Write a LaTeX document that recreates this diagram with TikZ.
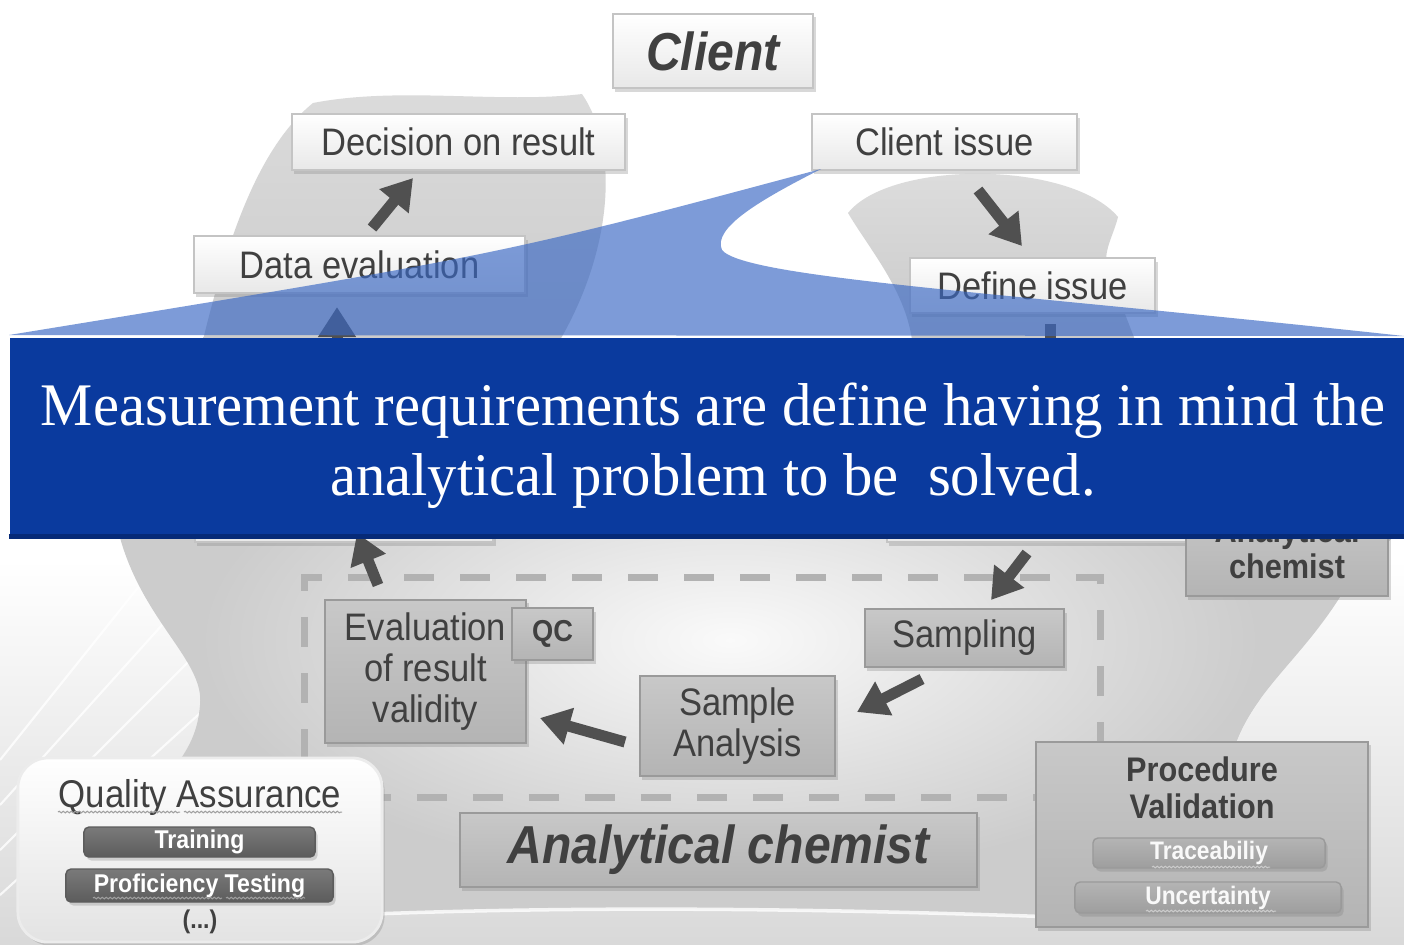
\documentclass[tikz,border=0pt]{standalone}
\usepackage{fontspec}
\setmainfont{Liberation Sans}[FakeStretch=0.9]
\newfontfamily\bannerfont{Liberation Serif}[FakeStretch=0.97]
\usetikzlibrary{arrows.meta,shadows,decorations.pathmorphing,calc}
\definecolor{boxedge}{HTML}{C4C4C4}
\definecolor{boxlightb}{HTML}{E8E8E8}
\definecolor{midboxtop}{HTML}{C8C8C8}
\definecolor{midboxbot}{HTML}{B4B4B4}
\definecolor{midedge}{HTML}{9A9A9A}
\definecolor{txt}{HTML}{404040}
\definecolor{arrowc}{HTML}{505050}
\definecolor{darkbartop}{HTML}{7A7A7A}
\definecolor{darkbarbot}{HTML}{5C5C5C}
\definecolor{lightbartop}{HTML}{B4B4B4}
\definecolor{lightbarbot}{HTML}{9E9E9E}
\definecolor{bannerc}{HTML}{0A3A9E}
\definecolor{bannerdark}{HTML}{062A78}
\definecolor{calloutc}{HTML}{3A68C4}
\definecolor{dashc}{HTML}{B2B2B2}
\begin{document}
\begin{tikzpicture}[x=0.01cm,y=-0.01cm,
  shadowed/.style={drop shadow={shadow xshift=0.025cm,shadow yshift=-0.035cm,opacity=0.3}},
  lightbox/.style={draw=boxedge, line width=0.6pt, top color=white, bottom color=boxlightb,
     shadowed, text=txt, inner sep=0pt, align=center, font=\fontsize{10.9}{12}\selectfont},
  midbox/.style={draw=midedge, line width=0.6pt, top color=midboxtop, bottom color=midboxbot,
     shadowed, text=txt, inner sep=0pt, align=center, font=\fontsize{10.9}{11.7}\selectfont},
  darkbar/.style={draw=darkbarbot, line width=0.4pt, top color=darkbartop, bottom color=darkbarbot,
     rounded corners=0.05cm, shadowed, text=white, inner sep=0pt, font=\fontsize{7.3}{8}\selectfont\bfseries},
  lightbar/.style={draw=midedge, line width=0.4pt, top color=lightbartop, bottom color=lightbarbot,
     rounded corners=0.05cm, shadowed, text=white!95!gray, inner sep=0pt, font=\fontsize{7.2}{8}\selectfont\bfseries},
  blockarrow/.style={draw=arrowc, line width=0.11cm, -{Triangle[length=0.3cm,width=0.36cm]}},
  squiggle/.style={draw=gray!75, line width=0.3pt, decorate, decoration={snake, segment length=0.04cm, amplitude=0.008cm}},
  plaintext/.style={inner sep=0pt, text=txt, align=center}
]
\useasboundingbox (0,0) rectangle (1404,944);
% background
\fill[white] (0,0) rectangle (1404,944);
\shade[top color=white, bottom color=gray!30] (0,560) rectangle (1404,944);
\foreach \i in {0,1,2,3} {
  \draw[white, line width=0.6pt, opacity=0.8] (0,{760+\i*45}) -- ({160+\i*20},{560+\i*45});
}

% upper left blob (behind Decision / Data evaluation)
\shade[top color=gray!28, bottom color=gray!40]
  (313,103) .. controls (400,86) and (500,104) .. (582,94)
  .. controls (620,150) and (612,250) .. (560,340) -- (203,340)
  .. controls (225,250) and (255,150) .. (313,103) -- cycle;
% funnel blob (behind Client issue / Define issue)
\shade[top color=gray!26, bottom color=gray!42]
  (848,213) .. controls (890,160) and (1070,160) .. (1118,217)
  .. controls (1112,240) and (1100,255) .. (1110,275) -- (1135,340) -- (912,340)
  .. controls (905,290) and (870,250) .. (848,213) -- cycle;

% main lower blob
\def\blobpath{(105,470) -- (1395,470) -- (1395,535)
  .. controls (1370,560) and (1352,578) .. (1340,597)
  .. controls (1300,660) and (1255,690) .. (1235,745) -- (1240,925)
  .. controls (900,908) and (500,900) .. (175,925) -- (180,760)
  .. controls (190,745) and (198,730) .. (200,705)
  .. controls (205,660) and (140,620) .. (118,530) -- cycle}
\fill[gray!40] \blobpath;
\begin{scope}
  \clip \blobpath;
  \shade[inner color=gray!4, outer color=gray!40] (200,400) rectangle (1260,880);
\end{scope}
\draw[white, line width=1pt, opacity=0.8] (175,925) .. controls (500,900) and (900,908) .. (1240,925);

% boxes hidden under the banner
\node[lightbox, minimum width=2.98cm, minimum height=0.62cm] (hidden1) at (344,511) {};
\node[lightbox, minimum width=2.99cm, minimum height=0.62cm] (hidden2) at (1036.5,511) {};
\node[midbox, minimum width=2.02cm, minimum height=0.96cm, font=\fontsize{9.7}{10.2}\selectfont\bfseries] (anchem2) at (1287,548) {Analytical\\chemist};

% top light boxes
\node[lightbox, minimum width=2.00cm, minimum height=0.74cm, font=\fontsize{15.2}{16}\selectfont\bfseries\itshape] (client) at (713,51) {Client};
\node[lightbox, minimum width=3.33cm, minimum height=0.56cm] (decision) at (458.5,142) {Decision on result};
\node[lightbox, minimum width=3.31cm, minimum height=0.57cm] (dataeval) at (359.5,264.5) {Data evaluation};
\node[lightbox, minimum width=2.65cm, minimum height=0.56cm] (clientissue) at (944.5,142) {Client issue};
\node[lightbox, minimum width=2.45cm, minimum height=0.55cm] (defineissue) at (1032.5,285.5) {Define issue};

% dashed frame
\node[draw=dashc, line width=0.07cm, dash pattern=on 0.3cm off 0.26cm, minimum width=7.95cm, minimum height=2.19cm, inner sep=0pt] (frame) at (702.5,687.5) {};

% inner boxes
\node[midbox, minimum width=2.01cm, minimum height=1.43cm] (evaluation) at (425.5,671.5) {Evaluation\\of result\\validity};
\node[midbox, minimum width=0.81cm, minimum height=0.52cm, font=\fontsize{8.6}{9}\selectfont\bfseries] (qc) at (552.5,634) {QC};
\node[midbox, minimum width=1.95cm, minimum height=1.00cm] (sampleanalysis) at (737.5,726) {Sample\\Analysis};
\node[midbox, minimum width=1.99cm, minimum height=0.58cm] (sampling) at (964.5,638) {Sampling};
\node[midbox, minimum width=5.17cm, minimum height=0.74cm, font=\fontsize{15.2}{16}\selectfont\bfseries\itshape] (anchem) at (718.5,850) {Analytical chemist};

% arrows
\coordinate (a1s) at (372,228); \coordinate (a1e) at (413,178);
\coordinate (a2s) at (978,190); \coordinate (a2e) at (1022,246);
\coordinate (a3s) at (337,420); \coordinate (a3e) at (337,307);
\coordinate (a4s) at (1050,324); \coordinate (a4e) at (1050,420);
\coordinate (a5s) at (378,585); \coordinate (a5e) at (357,533);
\coordinate (a6s) at (1027,553); \coordinate (a6e) at (991,600);
\coordinate (a7s) at (922,679); \coordinate (a7e) at (857,712);
\coordinate (a8s) at (625,742); \coordinate (a8e) at (540,718);
\draw[blockarrow] (a1s) -- (a1e);
\draw[blockarrow] (a2s) -- (a2e);
\draw[blockarrow] (a3s) -- (a3e);
\draw[blockarrow] (a4s) -- (a4e);
\draw[blockarrow] (a5s) -- (a5e);
\draw[blockarrow] (a6s) -- (a6e);
\draw[blockarrow] (a7s) -- (a7e);
\draw[blockarrow] (a8s) -- (a8e);

% Quality Assurance panel
\node[draw=white!85!gray, line width=0.8pt, top color=white, bottom color=gray!22, rounded corners=0.3cm,
      shadowed, minimum width=3.64cm, minimum height=1.84cm, inner sep=0pt] (qa) at (200,850) {};
\node[plaintext, font=\fontsize{11}{12}\selectfont] (qatitle) at (200,797) {Quality Assurance};
\node[darkbar, minimum width=2.31cm, minimum height=0.30cm] (training) at (199.5,842) {Training};
\node[darkbar, minimum width=2.67cm, minimum height=0.33cm] (proficiency) at (199.5,885.5) {Proficiency Testing};
\node[plaintext, font=\fontsize{7.3}{8}\selectfont\bfseries] (etc) at (200,922) {(...)};
\draw[squiggle] (58,812) -- (180,812);
\draw[squiggle] (184,812) -- (342,812);
\draw[squiggle] (93,898) -- (222,898);
\draw[squiggle] (226,898) -- (305,898);

% Procedure validation panel
\node[midbox, minimum width=3.32cm, minimum height=1.85cm] (procval) at (1202,834.5) {};
\node[plaintext, font=\fontsize{9.7}{10.5}\selectfont\bfseries] (procvaltitle) at (1202,788) {Procedure\\Validation};
\node[lightbar, minimum width=2.32cm, minimum height=0.30cm] (trace) at (1209,853) {Traceabiliy};
\node[lightbar, minimum width=2.66cm, minimum height=0.31cm] (uncert) at (1208,897.5) {Uncertainty};
\draw[squiggle, draw=gray!40] (1152,867) -- (1270,867);
\draw[squiggle, draw=gray!40] (1146,911) -- (1276,911);

% callout
\fill[calloutc, opacity=0.66] (9,335) .. controls (500,255) .. (821,169)
  .. controls (760,200) and (712,228) .. (722,250)
  .. controls (745,278) and (1000,292) .. (1404,336) -- cycle;

% banner
\node[fill=bannerc, minimum width=13.94cm, minimum height=2.00cm, inner sep=0pt] (banner) at (707,438) {};
\draw[bannerdark, line width=0.05cm] ([yshift=0.025cm]banner.south west) -- ([yshift=0.025cm]banner.south east);
\node[inner sep=0pt, text=white, align=center, font=\bannerfont\fontsize{17.2}{20}\selectfont] (bannertext) at (713,446)
  {Measurement requirements are define having in mind the\\analytical problem to be~ solved.};
\end{tikzpicture}
\end{document}
